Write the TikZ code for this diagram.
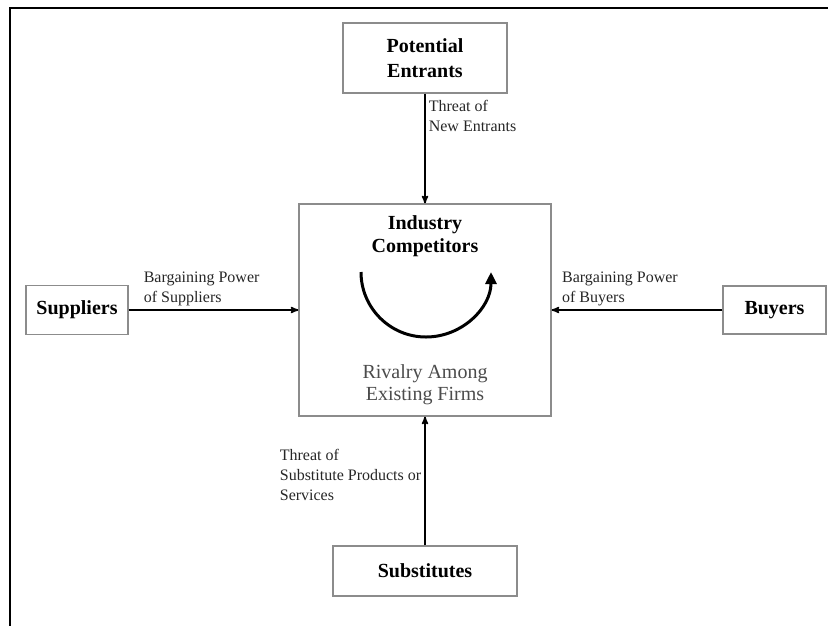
\documentclass[tikz,border=0pt]{standalone}
\usepackage{fontspec}
\setmainfont{Liberation Serif}
\usetikzlibrary{
        arrows,
        arrows.meta,
        positioning
    }
\tikzset{>=stealth',auto}
\tikzset{force box/.style={draw=black!45,line width=1.3pt,fill=white,align=center,
        font=\fontsize{20}{25}\selectfont\bfseries,inner sep=0pt}}
\tikzset{force label/.style={align=left,font=\fontsize{16}{20}\selectfont,text=black!85,inner sep=3pt}}
\tikzset{force arrow/.style={->,line width=1.6pt}}

\begin{document}
\begin{tikzpicture}[x=1pt,y=-1pt,>=stealth',auto]
    \useasboundingbox (0,0) rectangle (828,625);
    \draw[line width=2pt] (10,630) -- (10,8) -- (828,8);
    % the five forces
    \node[force box,minimum width=252pt,minimum height=212pt] (industry) at (425,310) {};
    \node[force box,minimum width=164pt,minimum height=70pt] (entrants) at (425,58) {Potential\\Entrants};
    \node[force box,minimum width=184pt,minimum height=50pt] (substitutes) at (425,571) {Substitutes};
    \node[force box,minimum width=102pt,minimum height=49pt] (suppliers) at (77,310) {Suppliers};
    \node[force box,minimum width=103pt,minimum height=48pt] (buyers) at (774.5,310) {Buyers};
    % inside the industry box
    \node[font=\fontsize{20}{23}\selectfont\bfseries,align=center] (competitors) at (425,236) {Industry\\Competitors};
    \node[font=\fontsize{20}{22}\selectfont,text=black!70,align=center] (rivalry) at (425,385) {Rivalry Among\\Existing Firms};
    \draw[line width=3pt,-{Triangle[length=12pt,width=11pt]}] (361,272) arc[start angle=180,end angle=0,radius=65];
    \path[force arrow]
        (entrants) edge node[force label,pos=0.2] {Threat of\\New Entrants} (industry)
        (suppliers) edge node[force label,pos=0.43] {Bargaining Power\\of Suppliers} (industry)
        (buyers) edge node[force label,pos=0.6,swap] {Bargaining Power\\of Buyers} (industry)
        (substitutes) edge node[force label,pos=0.55] {Threat of\\Substitute Products or\\Services} (industry)
    ;
\end{tikzpicture}
\end{document}
